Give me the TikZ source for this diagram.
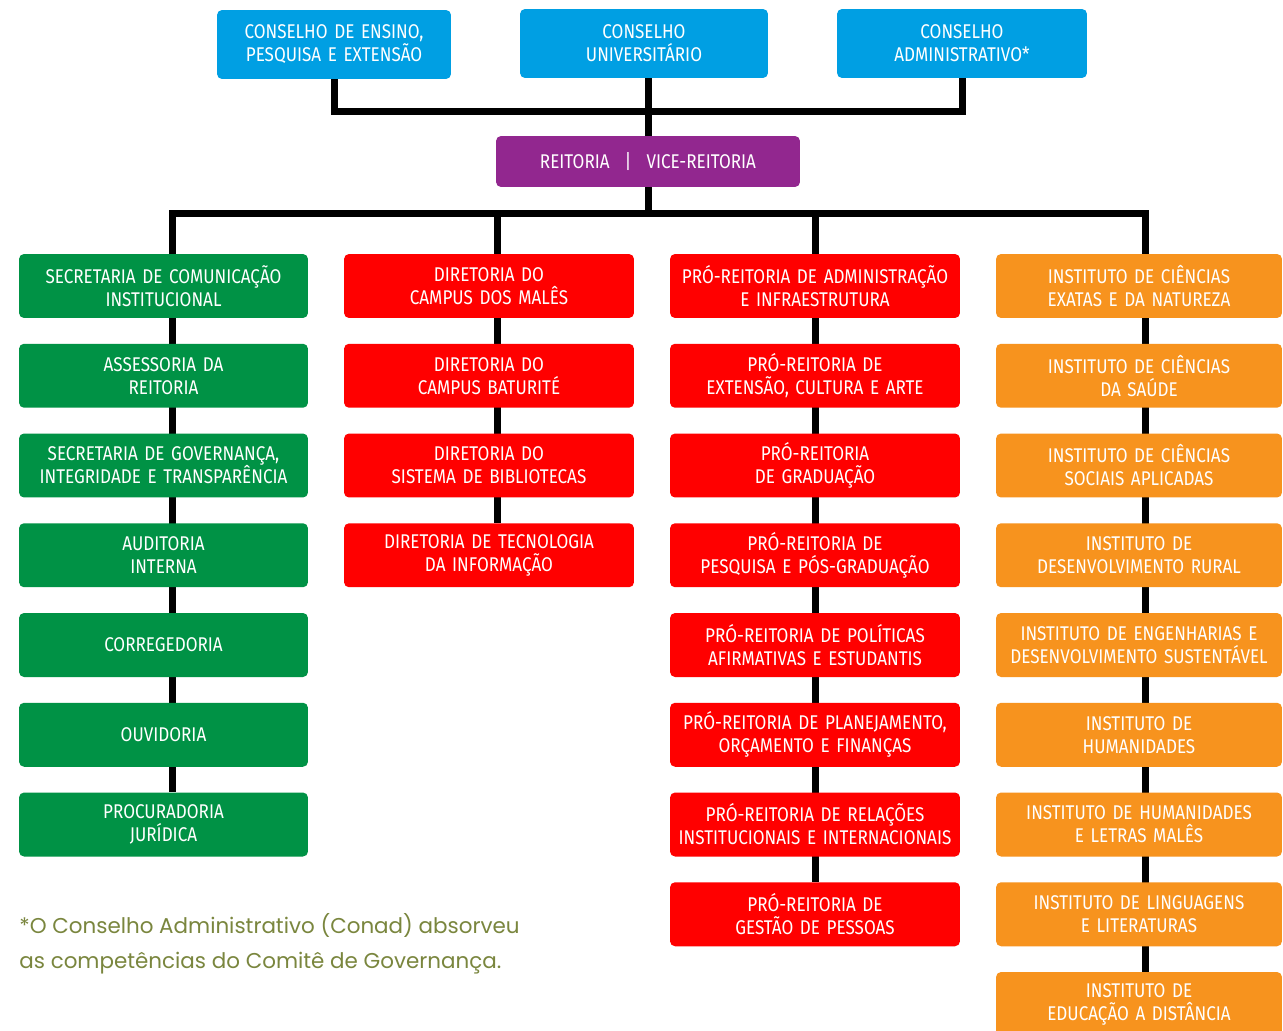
\documentclass[tikz,border=0pt]{standalone}
\usepackage{fontspec}
\setmainfont{Fira Sans}[FakeStretch=0.86]
\newfontfamily\notefont{Poppins}
\usetikzlibrary{backgrounds}

\definecolor{conblue}{RGB}{0,159,227}
\definecolor{reitpurple}{RGB}{146,39,143}
\definecolor{secgreen}{RGB}{0,146,69}
\definecolor{dirred}{RGB}{255,0,0}
\definecolor{instorange}{RGB}{247,147,30}
\definecolor{noteolive}{RGB}{122,134,62}

\tikzset{
  orgbox/.style={rounded corners=0.1cm, text=white, align=center, inner sep=0pt,
    font=\fontsize{11.3}{13.1}\selectfont},
  conbox/.style={orgbox, fill=conblue, minimum height=1.38cm},
  reitbox/.style={orgbox, fill=reitpurple, text width=6.08cm, minimum height=1.02cm},
  secbox/.style={orgbox, fill=secgreen, text width=5.78cm, minimum height=1.28cm},
  dirbox/.style={orgbox, fill=dirred, text width=5.8cm, minimum height=1.28cm},
  instbox/.style={orgbox, fill=instorange, text width=5.72cm, minimum height=1.28cm},
  link/.style={line width=0.14cm, black}
}

\begin{document}
\begin{tikzpicture}[x=0.02cm,y=-0.02cm]
\useasboundingbox (0,0) rectangle (1283,1030);

% Councils
\node[conbox, text width=4.68cm] (cepe) at (334,44.5) {CONSELHO DE ENSINO,\\PESQUISA E EXTENSÃO};
\node[conbox, text width=4.96cm] (consuni) at (644,43.5) {CONSELHO\\UNIVERSITÁRIO};
\node[conbox, text width=5.0cm] (conad) at (962,43.5) {CONSELHO\\ADMINISTRATIVO*};

% Rectorate
\node[reitbox] (reit) at (648,161.5) {REITORIA\hspace{0.3cm}|\hspace{0.3cm}VICE-REITORIA};

% Column 1: secretariats
\node[secbox] (g1) at (163.5,286) {SECRETARIA DE COMUNICAÇÃO\\INSTITUCIONAL};
\node[secbox] (g2) at (163.5,375.75) {ASSESSORIA DA\\REITORIA};
\node[secbox] (g3) at (163.5,465.5) {SECRETARIA DE GOVERNANÇA,\\INTEGRIDADE E TRANSPARÊNCIA};
\node[secbox] (g4) at (163.5,555.25) {AUDITORIA\\INTERNA};
\node[secbox] (g5) at (163.5,645) {CORREGEDORIA};
\node[secbox] (g6) at (163.5,734.75) {OUVIDORIA};
\node[secbox] (g7) at (163.5,824.5) {PROCURADORIA\\JURÍDICA};

% Column 2: directorates
\node[dirbox] (d1) at (489,286) {DIRETORIA DO\\CAMPUS DOS MALÊS};
\node[dirbox] (d2) at (489,375.75) {DIRETORIA DO\\CAMPUS BATURITÉ};
\node[dirbox] (d3) at (489,465.5) {DIRETORIA DO\\SISTEMA DE BIBLIOTECAS};
\node[dirbox] (d4) at (489,555.25) {DIRETORIA DE TECNOLOGIA\\DA INFORMAÇÃO};

% Column 3: pro-rectorates
\node[dirbox] (p1) at (815,286) {PRÓ-REITORIA DE ADMINISTRAÇÃO\\E INFRAESTRUTURA};
\node[dirbox] (p2) at (815,375.75) {PRÓ-REITORIA DE\\EXTENSÃO, CULTURA E ARTE};
\node[dirbox] (p3) at (815,465.5) {PRÓ-REITORIA\\DE GRADUAÇÃO};
\node[dirbox] (p4) at (815,555.25) {PRÓ-REITORIA DE\\PESQUISA E PÓS-GRADUAÇÃO};
\node[dirbox] (p5) at (815,645) {PRÓ-REITORIA DE POLÍTICAS\\AFIRMATIVAS E ESTUDANTIS};
\node[dirbox] (p6) at (815,734.75) {PRÓ-REITORIA DE PLANEJAMENTO,\\ORÇAMENTO E FINANÇAS};
\node[dirbox] (p7) at (815,824.5) {PRÓ-REITORIA DE RELAÇÕES\\INSTITUCIONAIS E INTERNACIONAIS};
\node[dirbox] (p8) at (815,914.25) {PRÓ-REITORIA DE\\GESTÃO DE PESSOAS};

% Column 4: institutes
\node[instbox] (i1) at (1139,286) {INSTITUTO DE CIÊNCIAS\\EXATAS E DA NATUREZA};
\node[instbox] (i2) at (1139,375.75) {INSTITUTO DE CIÊNCIAS\\DA SAÚDE};
\node[instbox] (i3) at (1139,465.5) {INSTITUTO DE CIÊNCIAS\\SOCIAIS APLICADAS};
\node[instbox] (i4) at (1139,555.25) {INSTITUTO DE\\DESENVOLVIMENTO RURAL};
\node[instbox] (i5) at (1139,645) {INSTITUTO DE ENGENHARIAS E\\DESENVOLVIMENTO SUSTENTÁVEL};
\node[instbox] (i6) at (1139,734.75) {INSTITUTO DE\\HUMANIDADES};
\node[instbox] (i7) at (1139,824.5) {INSTITUTO DE HUMANIDADES\\E LETRAS MALÊS};
\node[instbox] (i8) at (1139,914.25) {INSTITUTO DE LINGUAGENS\\E LITERATURAS};
\node[instbox] (i9) at (1139,1004) {INSTITUTO DE\\EDUCAÇÃO A DISTÂNCIA};

% Footnote
\node[anchor=north west, align=left, text=noteolive, inner sep=0pt,
  font=\notefont\fontsize{12.2}{20}\selectfont] (note) at (19,913)
  {*O Conselho Administrativo (Conad) absorveu\\as competências do Comitê de Governança.};

% Branch points
\coordinate (topbar) at (648,112);
\coordinate (lowbar) at (648,214);
\coordinate (gtop) at (172,214);
\coordinate (dtop) at (497,214);
\coordinate (ptop) at (815,214);
\coordinate (itop) at (1145,214);

\begin{pgfonlayer}{background}
  \fill[white] (0,0) rectangle (1283,1030);
  % councils to rectorate
  \draw[link] (cepe.south) |- (topbar) -| (conad.south);
  \draw[link] (consuni.south -| reit.north) -- (reit.north);
  % rectorate to columns
  \draw[link] (reit.south) -- (lowbar);
  \draw[link] (gtop |- g1.north) -- (gtop) -- (itop) -- (itop |- i1.north);
  \draw[link] (dtop) -- (dtop |- d1.north);
  \draw[link] (ptop) -- (ptop |- p1.north);
  % column spines
  \draw[link] (gtop |- g1.south) -- (gtop |- g7.north);
  \draw[link] (dtop |- d1.south) -- (dtop |- d4.north);
  \draw[link] (ptop |- p1.south) -- (ptop |- p8.north);
  \draw[link] (itop |- i1.south) -- (itop |- i9.north);
\end{pgfonlayer}
\end{tikzpicture}
\end{document}
